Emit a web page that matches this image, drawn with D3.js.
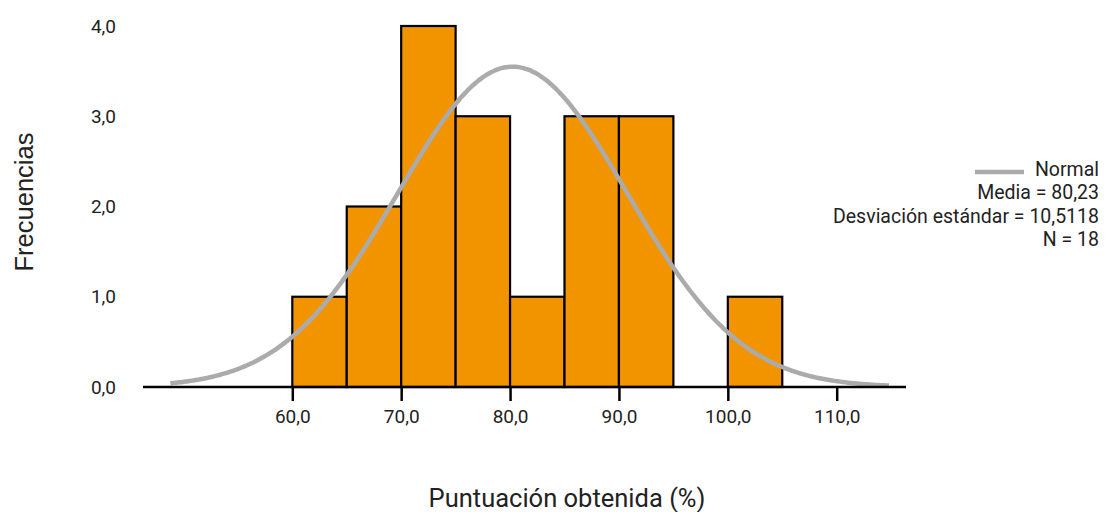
<!DOCTYPE html>
<html><head><meta charset="utf-8">
<script src="https://cdn.jsdelivr.net/npm/d3@7"></script>
<style>body{margin:0;background:#fff}svg{display:block}</style>
</head><body>
<svg id="c" width="1109" height="512"></svg>
<script>
const binStarts = [60, 65, 70, 75, 80, 85, 90, 95, 100];
const binEnds   = [65, 70, 75, 80, 85, 90, 95, 100, 105];
const frequencies = [1, 2, 4, 3, 1, 3, 3, 0, 1];
const xTicks = [60, 70, 80, 90, 100, 110];
const yTicks = [0, 1, 2, 3, 4];
const normalMean = 80.23;
const normalSd = 10.5118;
const normalN = 18;
const curvePeak = 3.55;          // peak height
const curveRange = [48.8, 115.0];
const legendLines = ["Media = 80,23", "Desviación estándar = 10,5118", "N = 18"];

const svg = d3.select("#c");
const fmt = v => d3.format(".1f")(v).replace(".", ",");
const font = "Roboto, 'Noto Sans', sans-serif";

const x = d3.scaleLinear().domain([60, 110]).range([292.3, 836.7]);
const y = d3.scaleLinear().domain([0, 4]).range([387, 26]);

// bars
const bars = binStarts.map((s, i) => ({s, e: binEnds[i], f: frequencies[i]})).filter(d => d.f > 0);
svg.append("g").selectAll("rect").data(bars).join("rect")
  .attr("x", d => x(d.s)).attr("width", d => x(d.e) - x(d.s))
  .attr("y", d => y(d.f)).attr("height", d => y(0) - y(d.f))
  .attr("fill", "#F29400").attr("stroke", "#000").attr("stroke-width", 2.2);

// normal curve
const pts = d3.range(curveRange[0], curveRange[1] + 0.001, 0.25).map(v =>
  [v, curvePeak * Math.exp(-0.5 * Math.pow((v - normalMean) / normalSd, 2))]);
svg.append("path").datum(pts)
  .attr("d", d3.line().x(d => x(d[0])).y(d => y(d[1])).curve(d3.curveBasis))
  .attr("fill", "none").attr("stroke", "#ABABAB").attr("stroke-width", 4.5);

// x axis
const xg = svg.append("g").attr("transform", `translate(0,${y(0)})`)
  .call(d3.axisBottom(x).tickValues(xTicks).tickFormat(fmt).tickSize(14).tickPadding(9).tickSizeOuter(0));
xg.select(".domain").remove();
xg.selectAll(".tick line").attr("stroke", "#000").attr("stroke-width", 2.5);
xg.selectAll("text").attr("font-family", font).attr("font-size", 19).attr("fill", "#222");
svg.append("line").attr("x1", 143).attr("x2", 906).attr("y1", y(0)).attr("y2", y(0))
  .attr("stroke", "#000").attr("stroke-width", 2.5);

// y axis labels
const yg = svg.append("g").attr("transform", "translate(116,0)")
  .call(d3.axisLeft(y).tickValues(yTicks).tickFormat(fmt).tickSize(0).tickPadding(0));
yg.select(".domain").remove();
yg.selectAll("text").attr("font-family", font).attr("font-size", 19).attr("fill", "#222");

// axis titles
svg.append("text").attr("x", 567).attr("y", 507).attr("text-anchor", "middle")
  .attr("font-family", font).attr("font-size", 25.5).attr("fill", "#222").text("Puntuación obtenida (%)");
svg.append("text").attr("transform", "translate(33,202) rotate(-90)").attr("text-anchor", "middle")
  .attr("font-family", "'Liberation Sans', Arial, sans-serif").attr("font-size", 25.5).attr("fill", "#222").text("Frecuencias");

// legend
svg.append("line").attr("x1", 975).attr("x2", 1024).attr("y1", 172).attr("y2", 172)
  .attr("stroke", "#ABABAB").attr("stroke-width", 4.5);
svg.append("text").attr("x", 1099).attr("y", 176).attr("text-anchor", "end")
  .attr("font-family", font).attr("font-size", 19.5).attr("fill", "#222").text("Normal");
svg.append("g").selectAll("text").data(legendLines).join("text")
  .attr("x", 1099).attr("y", (d, i) => 199 + i * 23.5).attr("text-anchor", "end")
  .attr("font-family", font).attr("font-size", 19.5).attr("fill", "#222").text(d => d);
</script>
</body></html>
